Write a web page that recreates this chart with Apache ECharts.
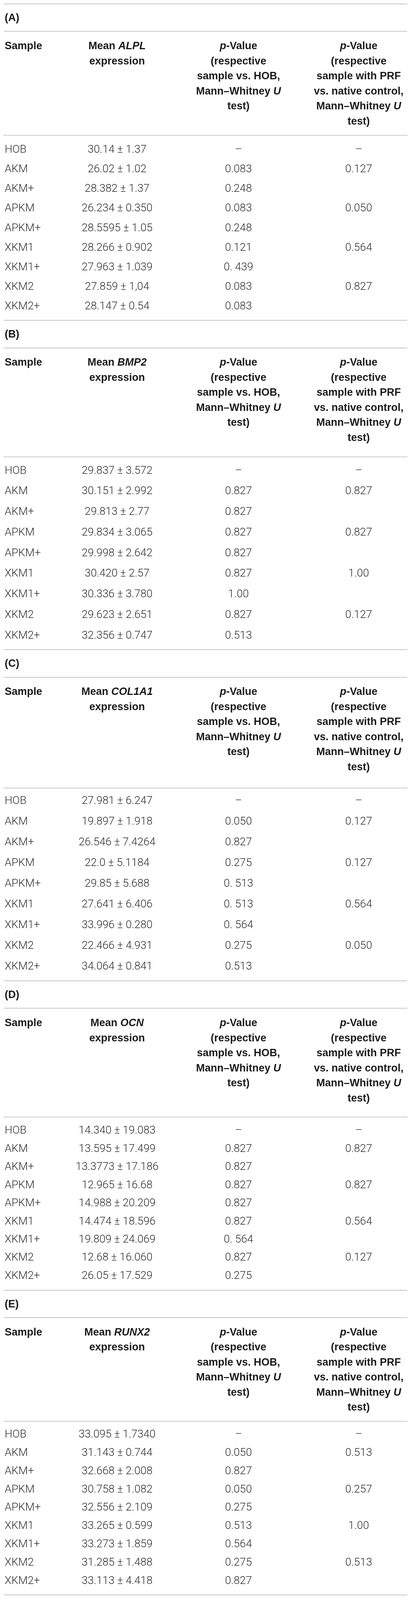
<!DOCTYPE html>
<html>
<head>
<meta charset="utf-8">
<title>Gene expression tables</title>
<script src="https://cdn.jsdelivr.net/npm/echarts@6/dist/echarts.min.js"></script>
<style>
  html, body { margin: 0; padding: 0; background: #fff; overflow: hidden; }
  #chart { width: 1053px; height: 4145px; }
</style>
</head>
<body>
<div id="chart"></div>
<script>
// ---- data ----
var SAMPLES = ["HOB", "AKM", "AKM+", "APKM", "APKM+", "XKM1", "XKM1+", "XKM2", "XKM2+"];
var PANELS = ["(A)", "(B)", "(C)", "(D)", "(E)"];
var GENES = ["ALPL", "BMP2", "COL1A1", "OCN", "RUNX2"];

var MEAN_ALPL = ["30.14 ± 1.37", "26.02 ± 1.02", "28.382 ± 1.37", "26.234 ± 0.350", "28.5595 ± 1.05", "28.266 ± 0.902", "27.963 ± 1.039", "27.859 ± 1,04", "28.147 ± 0.54"];
var PHOB_ALPL = ["–", "0.083", "0.248", "0.083", "0.248", "0.121", "0. 439", "0.083", "0.083"];
var PPRF_ALPL = ["–", "0.127", "", "0.050", "", "0.564", "", "0.827", ""];

var MEAN_BMP2 = ["29.837 ± 3.572", "30.151 ± 2.992", "29.813 ± 2.77", "29.834 ± 3.065", "29.998 ± 2.642", "30.420 ± 2.57", "30.336 ± 3.780", "29.623 ± 2.651", "32.356 ± 0.747"];
var PHOB_BMP2 = ["–", "0.827", "0.827", "0.827", "0.827", "0.827", "1.00", "0.827", "0.513"];
var PPRF_BMP2 = ["–", "0.827", "", "0.827", "", "1.00", "", "0.127", ""];

var MEAN_COL1A1 = ["27.981 ± 6.247", "19.897 ± 1.918", "26.546 ± 7.4264", "22.0 ± 5.1184", "29.85 ± 5.688", "27.641 ± 6.406", "33.996 ± 0.280", "22.466 ± 4.931", "34.064 ± 0.841"];
var PHOB_COL1A1 = ["–", "0.050", "0.827", "0.275", "0. 513", "0. 513", "0. 564", "0.275", "0.513"];
var PPRF_COL1A1 = ["–", "0.127", "", "0.127", "", "0.564", "", "0.050", ""];

var MEAN_OCN = ["14.340 ± 19.083", "13.595 ± 17.499", "13.3773 ± 17.186", "12.965 ± 16.68", "14.988 ± 20.209", "14.474 ± 18.596", "19.809 ± 24.069", "12.68 ± 16.060", "26.05 ± 17.529"];
var PHOB_OCN = ["–", "0.827", "0.827", "0.827", "0.827", "0.827", "0. 564", "0.827", "0.275"];
var PPRF_OCN = ["–", "0.827", "", "0.827", "", "0.564", "", "0.127", ""];

var MEAN_RUNX2 = ["33.095 ± 1.7340", "31.143 ± 0.744", "32.668 ± 2.008", "30.758 ± 1.082", "32.556 ± 2.109", "33.265 ± 0.599", "33.273 ± 1.859", "31.285 ± 1.488", "33.113 ± 4.418"];
var PHOB_RUNX2 = ["–", "0.050", "0.827", "0.050", "0.275", "0.513", "0.564", "0.275", "0.827"];
var PPRF_RUNX2 = ["–", "0.513", "", "0.257", "", "1.00", "", "0.513", ""];

var TABLES = [
  [SAMPLES, MEAN_ALPL, PHOB_ALPL, PPRF_ALPL],
  [SAMPLES, MEAN_BMP2, PHOB_BMP2, PPRF_BMP2],
  [SAMPLES, MEAN_COL1A1, PHOB_COL1A1, PPRF_COL1A1],
  [SAMPLES, MEAN_OCN, PHOB_OCN, PPRF_OCN],
  [SAMPLES, MEAN_RUNX2, PHOB_RUNX2, PPRF_RUNX2]
];

// ---- layout (reference pixels, per panel) ----
var REF_H = 4145;
var SEC_TOP = [10, 830, 1683, 2541, 3342, 4132];   // rule lines between panels
var HEAD_LINE = [340, 353, 358, 352, 340];         // header rule, from panel top
var FIRST_ROW = [39, 37, 35, 37, 35];              // first row centre, below header rule
var LAST_GAP = 36;                                 // last row centre to bottom rule
var X_MIN = 10, X_MAX = 1043;
var COL_X = [12, 300, 611, 919];
var COL_ALIGN = ["left", "center", "center", "center"];
var LABEL_Y = 37, LABEL_LINE = 71, HEAD_Y = 110, HEAD_LH = 39;

// the window may be shorter than the reference: squeeze vertically to fit
var viewH = Math.min(REF_H, window.innerHeight || REF_H);
var SY = viewH / REF_H;
document.getElementById("chart").style.height = viewH + "px";

var FONT_HEAD = "'Liberation Sans', Arial, sans-serif";
var FONT_BODY = "Roboto, 'Liberation Sans', sans-serif";
var HEAD_SIZE = 27, BODY_SIZE = 28;
var LH = HEAD_LH * SY;

function headerText(col, gene) {
  if (col == 0) return "{h|Sample}";
  if (col == 1) return "{h|Mean }{i|" + gene + "}\n{h|expression}";
  if (col == 2) return "{i|p}{h|-Value}\n{h|(respective}\n{h|sample vs. HOB,}\n{h|Mann–Whitney }{i|U}\n{h|test)}";
  return "{i|p}{h|-Value}\n{h|(respective}\n{h|sample with PRF}\n{h|vs. native control,}\n{h|Mann–Whitney }{i|U}\n{h|test)}";
}

var RICH = {
  h: { fontFamily: FONT_HEAD, fontSize: HEAD_SIZE, fontWeight: "bold", fill: "#1a1a1a", lineHeight: LH },
  i: { fontFamily: FONT_HEAD, fontSize: HEAD_SIZE, fontWeight: "bold", fontStyle: "italic", fill: "#1a1a1a", lineHeight: LH }
};

function lineAxis(k, position, offset, color, width) {
  return {
    type: "value", gridIndex: k, min: X_MIN, max: X_MAX, position: position, offset: offset,
    axisLine: { show: true, lineStyle: { color: color, width: width } },
    axisTick: { show: false }, axisLabel: { show: false }, splitLine: { show: false }
  };
}

var grids = [], xAxes = [], yAxes = [], series = [];
TABLES.forEach(function(table, k) {
  var secTop = SEC_TOP[k] * SY, secBottom = SEC_TOP[k + 1] * SY;
  var headLine = secTop + HEAD_LINE[k] * SY;
  var firstRow = headLine + FIRST_ROW[k] * SY;
  var lastRow = secBottom - LAST_GAP * SY;
  var rowH = (lastRow - firstRow) / 8;
  var top = firstRow - rowH / 2;
  grids.push({ left: X_MIN, right: 1053 - X_MAX, top: top, height: rowH * 9 });

  var base = xAxes.length;
  xAxes.push(lineAxis(k, "bottom", secBottom - (top + rowH * 9), "#b4b4b4", 1.5));
  xAxes.push(lineAxis(k, "top", top - headLine, "#dadada", 3));
  xAxes.push(lineAxis(k, "top", top - (secTop + LABEL_LINE * SY), "#b4b4b4", 1.5));
  if (k == 0) xAxes.push(lineAxis(k, "top", top - secTop, "#b4b4b4", 1.5));
  yAxes.push({ type: "category", gridIndex: k, data: SAMPLES, inverse: true, show: false });

  // body cells
  var cells = [];
  table.forEach(function(colVals, c) {
    colVals.forEach(function(v, r) { if (v !== "") cells.push([c, r]); });
  });
  series.push({
    type: "custom", xAxisIndex: base, yAxisIndex: k, data: cells, clip: false, silent: true,
    renderItem: function(params, api) {
      var c = api.value(0), r = api.value(1);
      var p = api.coord([COL_X[c], r]);
      return {
        type: "text", x: p[0], y: p[1],
        style: {
          text: table[c][r], align: COL_ALIGN[c], verticalAlign: "middle",
          fontFamily: FONT_BODY, fontSize: BODY_SIZE, fontWeight: 300, fill: "#2b2b2b"
        }
      };
    }
  });

  // header + panel label, placed from the first row upwards
  var fromRow = firstRow - secTop;
  series.push({
    type: "custom", xAxisIndex: base, yAxisIndex: k, data: [[0], [1], [2], [3], [4]], clip: false, silent: true,
    renderItem: function(params, api) {
      var c = api.value(0);
      var row0 = api.coord([X_MIN, 0])[1];
      if (c == 4) {
        var pl = api.coord([COL_X[0], 0]);
        return {
          type: "text", x: pl[0], y: row0 - (fromRow - LABEL_Y * SY),
          style: { text: PANELS[k], align: "left", verticalAlign: "middle",
            fontFamily: FONT_HEAD, fontSize: HEAD_SIZE, fontWeight: "bold", fill: "#1a1a1a" }
        };
      }
      var p = api.coord([COL_X[c], 0]);
      return {
        type: "text", x: p[0], y: row0 - (fromRow - HEAD_Y * SY) - LH / 2,
        style: { text: headerText(c, GENES[k]), align: COL_ALIGN[c], verticalAlign: "top",
          fontFamily: FONT_HEAD, fontSize: HEAD_SIZE, fontWeight: "bold", fill: "#1a1a1a",
          lineHeight: LH, rich: RICH }
      };
    }
  });
});

var chart = echarts.init(document.getElementById("chart"));
chart.setOption({
  backgroundColor: "#ffffff",
  animation: false,
  grid: grids,
  xAxis: xAxes,
  yAxis: yAxes,
  series: series
});
</script>
</body>
</html>
